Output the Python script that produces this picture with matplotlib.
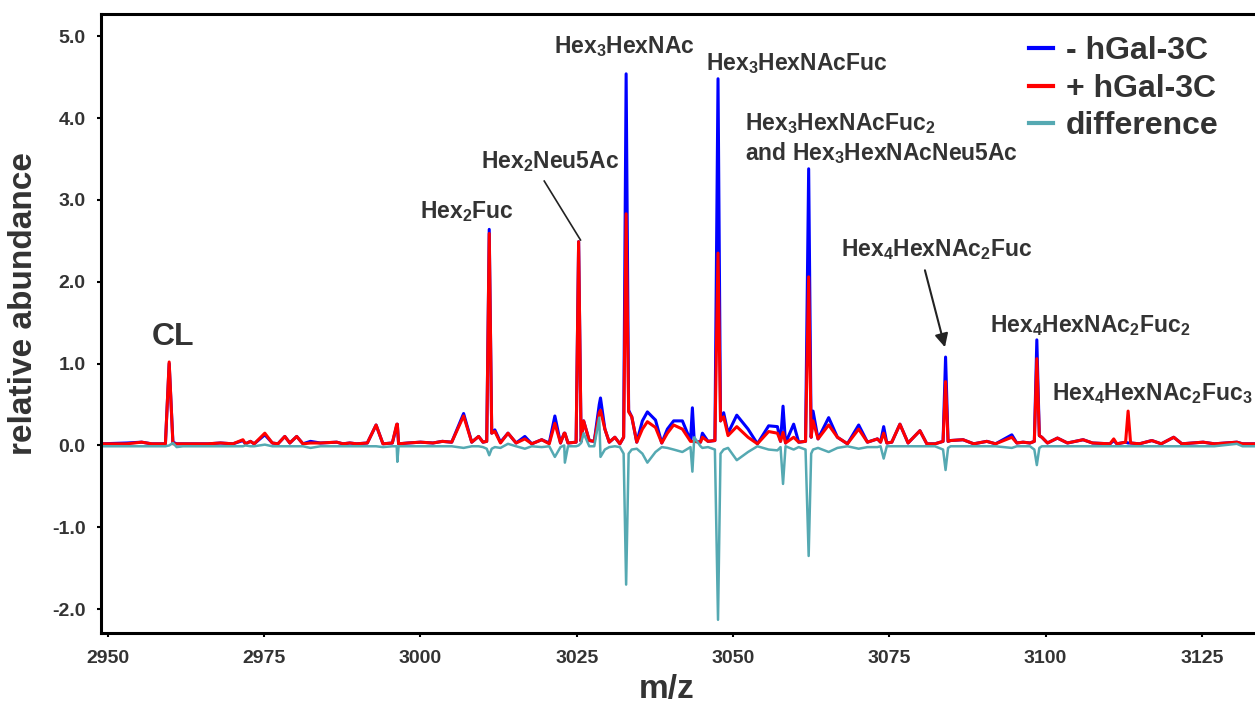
import matplotlib
matplotlib.use('Agg')
import matplotlib.pyplot as plt
import numpy as np

plt.rcParams['font.family'] = ['Liberation Sans', 'DejaVu Sans']
plt.rcParams['font.weight'] = 'bold'
plt.rcParams['axes.labelweight'] = 'bold'
plt.rcParams['mathtext.default'] = 'regular'

# spectrum vertices (m/z, relative abundance)
mz = [2949.0, 2953.0, 2955.4, 2957.0, 2959.2, 2959.8, 2960.4, 2961.0, 2962.0, 2966.0,
      2968.0, 2970.0, 2971.6, 2972.0, 2972.8, 2973.4, 2975.1, 2976.3, 2977.2, 2978.3,
      2979.1, 2980.2, 2981.2, 2982.4, 2984.0, 2986.6, 2987.6, 2988.7, 2989.8, 2991.5,
      2992.9, 2994.0, 2995.5, 2996.2, 2996.3, 2996.5, 2998.0, 3000.0, 3002.0, 3003.5,
      3005.0, 3006.9, 3008.2, 3009.3, 3010.0, 3010.6, 3011.0, 3011.4, 3011.9, 3012.8,
      3014.0, 3015.3, 3016.7, 3017.8, 3019.4, 3020.6, 3021.5, 3022.4, 3023.0, 3023.1,
      3023.6, 3024.9, 3025.3, 3025.7, 3026.1, 3027.0, 3027.8, 3028.6, 3028.8, 3029.5,
      3030.2, 3031.1, 3031.9, 3032.5, 3032.9, 3033.3, 3033.8, 3034.6, 3035.5, 3036.3,
      3037.6, 3038.6, 3039.5, 3040.5, 3041.9, 3043.2, 3043.5, 3043.8, 3044.8, 3045.1,
      3046.0, 3047.1, 3047.6, 3048.0, 3048.5, 3049.2, 3050.6, 3052.4, 3053.9, 3055.7,
      3057.1, 3057.6, 3058.0, 3058.4, 3059.7, 3060.5, 3061.6, 3062.1, 3062.5, 3062.8,
      3063.6, 3065.3, 3066.7, 3068.3, 3070.1, 3071.5, 3073.1, 3073.6, 3074.1, 3074.6,
      3075.4, 3076.7, 3078.0, 3079.9, 3081.0, 3082.3, 3083.6, 3084.0, 3084.4, 3084.8,
      3086.8, 3088.5, 3090.6, 3092.0, 3094.6, 3095.4, 3096.4, 3097.5, 3098.2, 3098.6,
      3099.0, 3099.4, 3100.3, 3101.9, 3103.5, 3106.0, 3107.5, 3110.3, 3110.9, 3111.4,
      3112.8, 3113.2, 3113.6, 3115.0, 3117.0, 3118.5, 3120.5, 3121.8, 3125.2, 3127.0,
      3130.6, 3131.5, 3134.0]

minus_gal = [0.02, 0.03, 0.04, 0.02, 0.02, 1.00, 0.04, 0.02, 0.02, 0.02,
             0.03, 0.02, 0.06, 0.02, 0.05, 0.02, 0.13, 0.03, 0.02, 0.11,
             0.03, 0.11, 0.02, 0.05, 0.03, 0.04, 0.02, 0.03, 0.02, 0.03,
             0.25, 0.02, 0.03, 0.24, 0.26, 0.02, 0.03, 0.04, 0.03, 0.05,
             0.04, 0.39, 0.04, 0.11, 0.04, 0.05, 2.64, 0.15, 0.19, 0.04,
             0.15, 0.03, 0.11, 0.02, 0.07, 0.03, 0.36, 0.03, 0.15, 0.15,
             0.03, 0.04, 2.49, 0.05, 0.30, 0.06, 0.05, 0.50, 0.58, 0.20,
             0.04, 0.10, 0.02, 0.10, 4.54, 0.43, 0.35, 0.04, 0.30, 0.41,
             0.31, 0.03, 0.20, 0.30, 0.30, 0.06, 0.46, 0.05, 0.04, 0.15,
             0.05, 0.06, 4.48, 0.30, 0.40, 0.15, 0.37, 0.20, 0.02, 0.24,
             0.23, 0.05, 0.48, 0.03, 0.26, 0.04, 0.05, 3.38, 0.10, 0.42,
             0.08, 0.34, 0.10, 0.02, 0.25, 0.04, 0.08, 0.04, 0.23, 0.03,
             0.04, 0.26, 0.03, 0.18, 0.02, 0.02, 0.05, 1.08, 0.05, 0.06,
             0.07, 0.02, 0.05, 0.02, 0.13, 0.03, 0.04, 0.03, 0.05, 1.29,
             0.12, 0.10, 0.03, 0.09, 0.03, 0.07, 0.03, 0.02, 0.06, 0.02,
             0.04, 0.03, 0.03, 0.02, 0.06, 0.02, 0.10, 0.02, 0.04, 0.02,
             0.04, 0.02, 0.02]

plus_gal = [0.02, 0.02, 0.04, 0.02, 0.02, 1.02, 0.02, 0.02, 0.02, 0.02,
            0.03, 0.02, 0.07, 0.02, 0.05, 0.02, 0.15, 0.03, 0.02, 0.11,
            0.03, 0.11, 0.02, 0.03, 0.03, 0.04, 0.02, 0.03, 0.02, 0.03,
            0.25, 0.02, 0.03, 0.26, 0.26, 0.02, 0.03, 0.04, 0.03, 0.05,
            0.04, 0.36, 0.04, 0.11, 0.04, 0.05, 2.59, 0.15, 0.17, 0.03,
            0.15, 0.03, 0.08, 0.02, 0.07, 0.02, 0.27, 0.03, 0.15, 0.15,
            0.03, 0.04, 2.49, 0.05, 0.30, 0.06, 0.05, 0.40, 0.43, 0.20,
            0.04, 0.10, 0.02, 0.10, 2.83, 0.41, 0.35, 0.04, 0.20, 0.29,
            0.22, 0.03, 0.15, 0.25, 0.20, 0.05, 0.05, 0.05, 0.04, 0.10,
            0.05, 0.06, 2.35, 0.30, 0.35, 0.12, 0.23, 0.10, 0.02, 0.17,
            0.15, 0.05, 0.16, 0.03, 0.10, 0.04, 0.05, 2.06, 0.10, 0.30,
            0.08, 0.25, 0.10, 0.02, 0.20, 0.04, 0.08, 0.04, 0.15, 0.03,
            0.04, 0.26, 0.03, 0.18, 0.02, 0.02, 0.05, 0.78, 0.05, 0.06,
            0.07, 0.02, 0.05, 0.02, 0.10, 0.03, 0.04, 0.03, 0.05, 1.06,
            0.12, 0.10, 0.03, 0.09, 0.03, 0.07, 0.03, 0.02, 0.08, 0.02,
            0.04, 0.42, 0.03, 0.02, 0.06, 0.02, 0.10, 0.02, 0.04, 0.02,
            0.04, 0.02, 0.02]

difference = [-0.01, -0.01, -0.01, -0.01, -0.01, 0.00, 0.03, -0.02, -0.01, -0.01,
              -0.01, -0.01, -0.01, 0.00, -0.01, -0.01, 0.01, -0.01, -0.01, -0.01,
              -0.01, -0.01, -0.01, -0.03, -0.01, -0.01, -0.01, -0.01, -0.01, -0.01,
              -0.01, -0.02, -0.01, -0.01, -0.20, -0.01, -0.01, -0.01, -0.01, -0.01,
              -0.01, -0.03, -0.01, -0.01, -0.02, -0.04, -0.12, -0.04, -0.02, -0.03,
              0.02, -0.01, -0.04, -0.01, -0.02, -0.01, -0.14, -0.02, 0.00, -0.21,
              -0.01, -0.01, 0.00, 0.03, 0.15, -0.01, -0.01, 0.34, -0.14, -0.05,
              -0.02, -0.01, -0.02, -0.10, -1.70, -0.10, -0.05, -0.04, -0.10, -0.21,
              -0.08, -0.02, -0.03, -0.05, -0.08, -0.02, -0.32, 0.10, -0.01, -0.03,
              -0.02, -0.05, -2.13, -0.10, -0.05, -0.03, -0.18, -0.08, -0.01, -0.05,
              -0.06, -0.02, -0.47, -0.01, -0.05, -0.02, -0.05, -1.35, -0.10, -0.05,
              -0.03, -0.08, -0.03, -0.01, -0.04, -0.02, -0.02, -0.01, -0.16, -0.01,
              -0.01, -0.01, -0.01, -0.01, -0.01, -0.01, -0.05, -0.30, -0.03, -0.01,
              -0.01, -0.01, -0.01, -0.01, -0.03, -0.01, -0.01, -0.01, -0.05, -0.24,
              -0.03, -0.01, -0.01, -0.01, -0.01, -0.01, -0.01, -0.01, -0.01, -0.01,
              -0.01, -0.01, -0.01, -0.01, -0.01, -0.01, -0.01, -0.01, -0.01, -0.01,
              0.02, -0.01, -0.01]

series_labels = ['- hGal-3C', '+ hGal-3C', 'difference']
x_ticks = [2950, 2975, 3000, 3025, 3050, 3075, 3100, 3125]
y_ticks = [-2.0, -1.0, 0.0, 1.0, 2.0, 3.0, 4.0, 5.0]

text_col = '#333333'

fig = plt.figure(figsize=(12.55, 7.04), dpi=100)
ax = fig.add_axes([0.0805, 0.101, 0.9195, 0.879])

ax.plot(mz, minus_gal, color='#0000ff', lw=2.2, label=series_labels[0])
ax.plot(mz, plus_gal, color='#ff0000', lw=2.2, label=series_labels[1])
ax.plot(mz, difference, color='#55a9b2', lw=1.8, label=series_labels[2])

ax.set_xlim(2948.9, 3133.5)
ax.set_ylim(-2.29, 5.27)
ax.set_xticks(x_ticks)
ax.set_yticks(y_ticks)
ax.set_yticklabels(['%.1f' % v for v in y_ticks])

for s in ['left', 'bottom', 'top']:
    ax.spines[s].set_linewidth(2.2)
ax.spines['right'].set_visible(False)
ax.tick_params(direction='out', length=3, width=1.5, labelsize=14,
               labelcolor=text_col)
ax.tick_params(axis='y', pad=8)
ax.tick_params(axis='x', pad=9)

ax.set_ylabel('relative abundance', fontsize=24, color=text_col, fontweight='bold')
ax.yaxis.set_label_coords(-0.054, 0.533)
ax.set_xlabel('m/z', fontsize=24, color=text_col, fontweight='bold')
ax.xaxis.set_label_coords(0.49, -0.066)

lab = dict(fontsize=16.5, color=text_col, fontweight='bold', va='baseline')
ax.text(2960.4, 1.23, 'CL', fontsize=23, color=text_col, ha='center', va='baseline')
ax.text(3007.4, 2.78, 'Hex$_2$Fuc', ha='center', **lab)
ax.text(3020.7, 3.39, 'Hex$_2$Neu5Ac', ha='center', **lab)
ax.plot([3019.8, 3025.6], [3.23, 2.51], color='#222222', lw=1.2)
ax.text(3032.6, 4.79, 'Hex$_3$HexNAc', ha='center', **lab)
ax.text(3060.2, 4.58, 'Hex$_3$HexNAcFuc', ha='center', **lab)
ax.text(3051.9, 3.85, 'Hex$_3$HexNAcFuc$_2$', ha='left', **lab)
ax.text(3051.9, 3.49, 'and Hex$_3$HexNAcNeu5Ac', ha='left', **lab)
ax.text(3082.6, 2.31, 'Hex$_4$HexNAc$_2$Fuc', ha='center', **lab)
ax.annotate('', xy=(3083.9, 1.20), xytext=(3080.7, 2.14),
            arrowprops=dict(arrowstyle='-|>', color='#222222', lw=1.5,
                            mutation_scale=20, shrinkA=0, shrinkB=0))
ax.text(3107.1, 1.38, 'Hex$_4$HexNAc$_2$Fuc$_2$', ha='center', **lab)
ax.text(3101.0, 0.56, 'Hex$_4$HexNAc$_2$Fuc$_3$', ha='left', clip_on=False, **lab)

leg = ax.legend(loc='upper left', bbox_to_anchor=(0.804, 0.964), frameon=False,
                fontsize=23, handlelength=0.75, handletextpad=0.4,
                labelspacing=0.23, borderpad=0, borderaxespad=0)
for t in leg.get_texts():
    t.set_color(text_col)
for h in leg.get_lines():
    h.set_linewidth(3)

fig.savefig('out.png', dpi=100)
